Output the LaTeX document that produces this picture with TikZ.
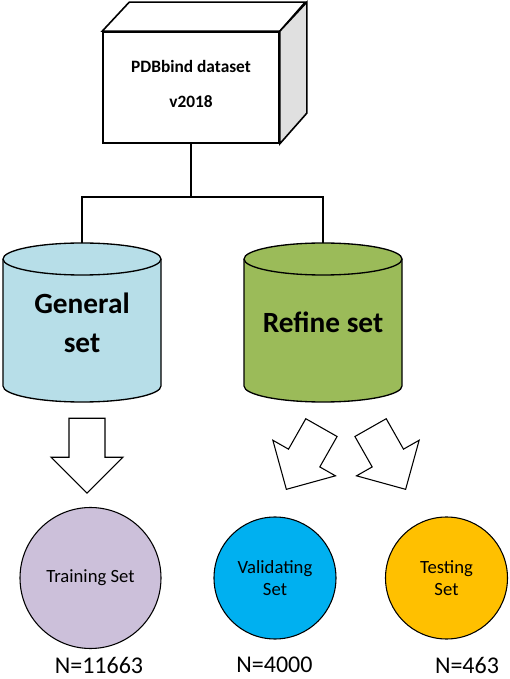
\documentclass[tikz,border=0pt]{standalone}
\usepackage{fontspec}
\setmainfont{Carlito}
\usetikzlibrary{shapes.arrows}
\definecolor{genblue}{HTML}{B7DEE8}
\definecolor{refgreen}{HTML}{9BBB59}
\definecolor{trainlav}{HTML}{CCC0DA}
\definecolor{validblue}{HTML}{00B0F0}
\definecolor{testorange}{HTML}{FFC000}
\definecolor{sidegray}{HTML}{E0E0E0}
\tikzstyle{link} = [line width=1.5pt]
\tikzstyle{dbset} = [minimum width=118.5pt, minimum height=119.25pt, inner sep=0pt, align=center, font=\fontsize{22}{29}\selectfont\bfseries]
\tikzstyle{subset} = [circle, draw, line width=0.8pt, inner sep=0pt, align=center, font=\fontsize{14}{17}\selectfont]
\tikzstyle{blockarrow} = [single arrow, draw, fill=white, line width=0.8pt, inner xsep=0pt, inner ysep=13.1pt, single arrow head extend=13.5pt, anchor=tip]
\tikzstyle{count} = [inner sep=0pt, font=\fontsize{18}{20}\selectfont]

\begin{document}
\begin{tikzpicture}[x=0.75pt,y=0.75pt]
			\useasboundingbox (0,0) rectangle (510,679);
			% dataset box
			\node[draw, line width=1.2pt, minimum width=132pt, minimum height=83.25pt, align=center, font=\fontsize{13}{26}\selectfont\bfseries] (pdb) at (191,591.5) {PDBbind dataset\\v2018\\[-21pt]};
			\filldraw[fill=white, line width=1.2pt] (pdb.north west) -- ++(27,29) -- ++(176,0) -- (pdb.north east) -- cycle;
			\filldraw[fill=sidegray, line width=1.2pt] (pdb.north east) -- ++(27,29) -- ++(0,-111) -- (pdb.south east) -- cycle;
			% the two sets (drawn as cylinders round their nodes)
			\foreach \name/\col/\x in {gen/genblue/82, ref/refgreen/323} {
				\filldraw[fill=\col, line width=1pt] (\x-79,420) -- ++(0,-127) arc[start angle=180, end angle=360, x radius=79, y radius=16] -- ++(0,127) arc[start angle=0, end angle=180, x radius=79, y radius=16] -- cycle;
				\draw[line width=1pt] (\x-79,420) arc[start angle=180, end angle=360, x radius=79, y radius=16];
			}
			\node[dbset] (gen) at (82,356.5) {General\\set};
			\node[dbset] (ref) at (323,356.5) {Refine set};
			\draw[link] (pdb.south) -- ++(0,-53) coordinate (fork);
			\draw[link] (gen.north) |- (fork) -| (ref.north);
			% split arrows
			\node[blockarrow, minimum height=56.25pt, rotate=-90] (togen) at (87,185) {};
			\node[blockarrow, minimum height=53.25pt, rotate=240.4] (toval) at (286,189) {};
			\node[blockarrow, minimum height=53.25pt, rotate=-60.4] (totest) at (406,189) {};
			% final sets
			\node[subset, fill=trainlav, minimum size=105.75pt] (train) at (90.5,101) {Training Set};
			\node[subset, fill=validblue, minimum size=91.5pt] (valid) at (275,101) {Validating\\Set};
			\node[subset, fill=testorange, minimum size=91.5pt] (test) at (446.5,101) {Testing\\Set};
			\node[count] (ntrain) at (99,14) {N=11663};
			\node[count] (nvalid) at (274.5,14) {N=4000};
			\node[count] (ntest) at (467,14) {N=463};
		\end{tikzpicture}
\end{document}
